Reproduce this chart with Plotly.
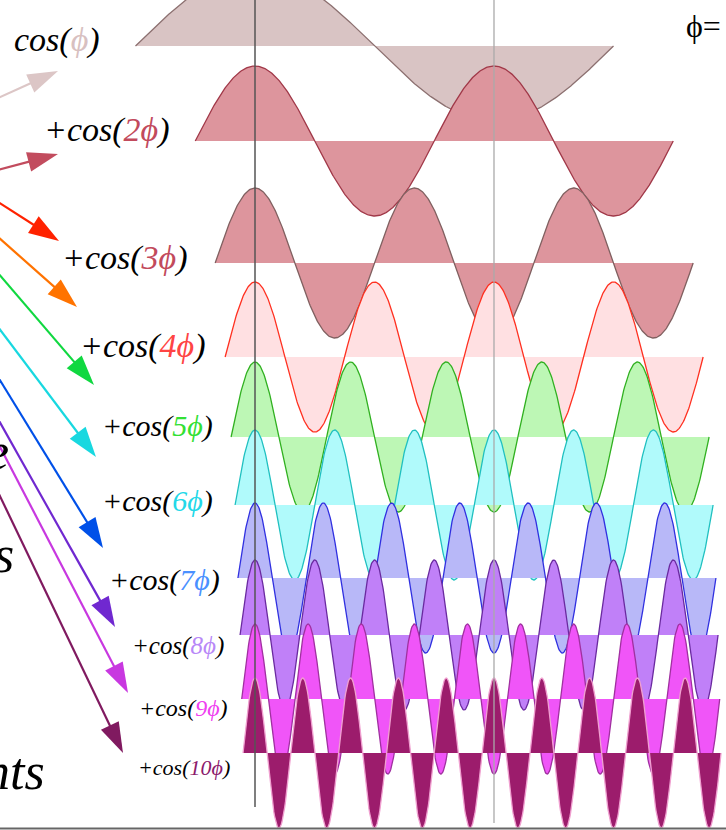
import numpy as np
import plotly.graph_objects as go

# ---------------- data ----------------
harmonics = [1, 2, 3, 4, 5, 6, 7, 8, 9, 10]
baselines = [46, 141, 263, 357, 437, 505, 578, 635, 699, 753]   # vertical level of each wave (px units, y axis reversed)
amplitudes = [75, 75, 75, 75, 75, 75, 75, 75, 75, 75]
fill_colors = ["#d9c4c4", "#dd959d", "#dd959d", "#ffe0e2", "#bdf7b5",
               "#b0fafb", "#b8b8f8", "#c080f8", "#f055f8", "#9c1c6c"]
line_colors = ["#8c7070", "#a03848", "#806060", "#ff3020", "#30b020",
               "#20c0c0", "#3030e0", "#6a2aa0", "#a030a0", "#f0a0d0"]
label_texts = ["cos(", "+cos(", "+cos(", "+cos(", "+cos(", "+cos(", "+cos(", "+cos(", "+cos(", "+cos("]
label_args = ["ϕ", "2ϕ", "3ϕ", "4ϕ", "5ϕ", "6ϕ", "7ϕ", "8ϕ", "9ϕ", "10ϕ"]
label_colors = ["#d8c0c0", "#c24a5c", "#c24a5c", "#ff4444", "#33e033",
                "#22d8e8", "#4a90ff", "#b888f8", "#f040f0", "#8c1a6c"]
arrow_colors = ["#dcc6c6", "#c24c5e", "#ff2200", "#ff7300", "#10d840",
                "#18d8e0", "#0050e8", "#7028d0", "#c838e0", "#801a60"]

# ---------------- layout helpers (pixel geometry) ----------------
W, H = 726, 830
X0 = 255.0                 # pixel position of phi = 0
S = 239.0 / np.pi          # pixels per radian

def px2phi(px):
    return (px - X0) / S

label_left = [12, 42, 60, 78, 100, 100, 107, 130, 137, 136]
label_mid = [40, 130, 258, 346, 426, 501, 580, 646, 708, 767]
label_size = [34, 34, 34, 34, 30, 30, 30, 25, 24, 22]

arrow_tail = [(-2, 98), (-2, 170), (-2, 202), (-2, 237), (-2, 273),
              (-2, 327), (-2, 377), (-2, 419), (-2, 443), (-2, 492)]
arrow_tip = [(58, 71), (58, 154), (59, 241), (77, 307), (94, 385),
             (96, 457), (103, 548), (115, 627), (128, 693), (123, 753)]

fig = go.Figure()

# ---------------- waves ----------------
for k, base, amp, fc, lc in zip(harmonics, baselines, amplitudes, fill_colors, line_colors):
    start = -np.pi / (2 * k)
    phi = np.linspace(start, start + 2 * np.pi, 700)
    y = base - amp * np.cos(k * phi)
    fig.add_trace(go.Scatter(
        x=np.concatenate([phi, [phi[-1], phi[0]]]),
        y=np.concatenate([y, [base, base]]),
        fill="toself", fillcolor=fc, mode="lines",
        line=dict(width=0, color=fc), hoverinfo="skip", showlegend=False))
    fig.add_trace(go.Scatter(
        x=phi, y=y, mode="lines", line=dict(width=1.3, color=lc),
        hoverinfo="skip", showlegend=False))

# ---------------- arrows ----------------
for (tx, ty), (hx, hy), c in zip(arrow_tail, arrow_tip, arrow_colors):
    fig.add_trace(go.Scatter(
        x=[px2phi(tx), px2phi(hx)], y=[ty, hy], mode="lines+markers",
        line=dict(width=2.2, color=c),
        marker=dict(symbol=["circle", "arrow"], size=[0, 32], angleref="previous",
                    color=c, opacity=1, line=dict(width=0)),
        opacity=1, hoverinfo="skip", showlegend=False))

# ---------------- labels ----------------
annotations = []
for t, a, c, lx, ly, fs in zip(label_texts, label_args, label_colors, label_left, label_mid, label_size):
    annotations.append(dict(
        x=px2phi(lx), y=ly, xref="x", yref="y", xanchor="left", yanchor="middle",
        text=f"<i>{t}<span style='color:{c}'>{a}</span>)</i>", showarrow=False,
        font=dict(family="Liberation Serif", size=fs, color="black")))

annotations.append(dict(x=px2phi(684), y=26, xref="x", yref="y", xanchor="left", yanchor="middle",
                        text="ϕ=", showarrow=False,
                        font=dict(family="Liberation Serif", size=32, color="black")))
for txt, rx, my in [("e", 11, 451), ("s", 16, 554), ("nts", 47, 771)]:
    annotations.append(dict(x=px2phi(rx), y=my, xref="x", yref="y", xanchor="right", yanchor="middle",
                            text=f"<i>{txt}</i>", showarrow=False,
                            font=dict(family="Liberation Serif", size=52, color="black")))

shapes = [
    dict(type="line", xref="x", yref="y", x0=0, x1=0, y0=0, y1=807,
         line=dict(color="#555555", width=1.5), layer="above"),
    dict(type="line", xref="x", yref="y", x0=np.pi, x1=np.pi, y0=0, y1=823,
         line=dict(color="#aaaaaa", width=1.3), layer="above"),
    dict(type="line", xref="paper", yref="y", x0=0, x1=1, y0=828.5, y1=828.5,
         line=dict(color="#666666", width=2), layer="above"),
]

fig.update_layout(
    width=W, height=H, margin=dict(l=0, r=0, t=0, b=0),
    paper_bgcolor="white", plot_bgcolor="white",
    xaxis=dict(range=[px2phi(0), px2phi(W)], visible=False, fixedrange=True),
    yaxis=dict(range=[H, 0], visible=False, fixedrange=True),
    annotations=annotations, shapes=shapes, showlegend=False,
)

fig.write_html("out.html", config={"displayModeBar": False},
               post_script="document.body.style.margin='0px';document.body.style.overflow='hidden';")
